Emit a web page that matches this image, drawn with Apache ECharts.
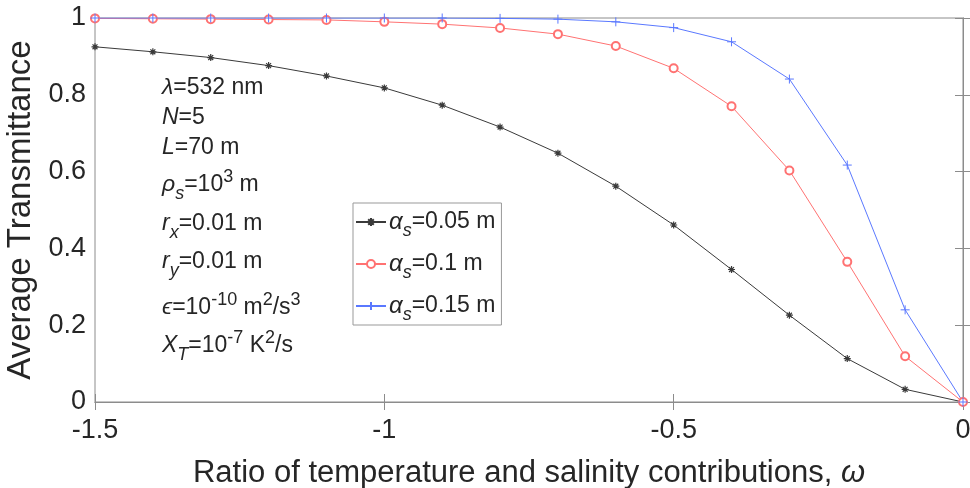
<!DOCTYPE html>
<html>
<head>
<meta charset="utf-8">
<script src="https://cdn.jsdelivr.net/npm/echarts@6/dist/echarts.min.js"></script>
<style>
html,body{margin:0;padding:0;background:#fff;}
#c{width:970px;height:488px;}
</style>
</head>
<body>
<div id="c"></div>
<script>
// ---- data ----
const omega = [-1.5, -1.4, -1.3, -1.2, -1.1, -1.0, -0.9, -0.8, -0.7, -0.6, -0.5, -0.4, -0.3, -0.2, -0.1, 0];
const alpha005 = [0.925, 0.912, 0.897, 0.876, 0.849, 0.818, 0.773, 0.716, 0.648, 0.562, 0.461, 0.345, 0.226, 0.113, 0.033, 0];
const alpha01  = [0.999, 0.998, 0.997, 0.996, 0.995, 0.990, 0.984, 0.974, 0.958, 0.927, 0.869, 0.770, 0.603, 0.365, 0.119, 0];
const alpha015 = [1.000, 1.000, 1.000, 1.000, 1.000, 1.000, 1.000, 0.999, 0.997, 0.990, 0.975, 0.938, 0.841, 0.617, 0.240, 0];
const seriesNames = ['αs=0.05 m', 'αs=0.1 m', 'αs=0.15 m'];
const xTicks = [-1.5, -1, -0.5, 0];
const yTicks = [0, 0.2, 0.4, 0.6, 0.8, 1];
const xTitle = 'Ratio of temperature and salinity contributions, ';
const yTitle = 'Average Transmittance';
const notes = [
  '{i|λ}=532 nm',
  '{i|N}=5',
  '{i|L}=70 m',
  '{i|ρ}{sub|s}=10{sup|3} m',
  '{i|r}{sub|x}=0.01 m',
  '{i|r}{sub|y}=0.01 m',
  '{i|ϵ}=10{sup|-10} m{sup|2}/s{sup|3}',
  '{i|X}{sub|T}=10{sup|-7} K{sup|2}/s'
];
// ---- layout/style ----
const FONT = '"Liberation Sans", Arial, sans-serif';
const TXT = '#262626';
const AX = '#8c8c8c';
const noteY = [88, 118, 148, 185, 224, 262, 308, 346];

const chart = echarts.init(document.getElementById('c'));
const pairs = arr => omega.map((x, i) => [x, arr[i]]);
const asterisk = 'path://M5,0L5,10M0,5L10,5M1.5,1.5L8.5,8.5M8.5,1.5L1.5,8.5';
const plus = 'path://M5,0L5,10M0,5L10,5';

const noteRich = {
  i: {fill: TXT, fontSize: 23, fontFamily: FONT, fontStyle: 'italic'},
  sub: {fill: TXT, fontSize: 18, fontFamily: FONT, fontStyle: 'italic', padding: [18, 0, 0, 0]},
  sup: {fill: TXT, fontSize: 18, fontFamily: FONT, padding: [0, 0, 16, 0]}
};

const axisCommon = {
  type: 'value',
  axisLine: {show: true, lineStyle: {color: AX, width: 1}},
  axisTick: {show: true, inside: true, length: 8, lineStyle: {color: AX}},
  splitLine: {show: false}
};

chart.setOption({
  animation: false,
  backgroundColor: '#fff',
  grid: {left: 95, right: 7, top: 18, bottom: 86, containLabel: false, outerBoundsMode: 'none',
    show: true, borderColor: AX, borderWidth: 1, backgroundColor: 'transparent'},
  xAxis: [
    Object.assign({}, axisCommon, {
      min: xTicks[0], max: xTicks[xTicks.length - 1], interval: 0.5, position: 'bottom',
      axisLabel: {fontSize: 27, color: TXT, fontFamily: FONT, margin: 15},
      name: xTitle + '{w|ω}', nameLocation: 'middle', nameGap: 56,
      nameTextStyle: {fontSize: 31, color: TXT, fontFamily: FONT,
        rich: {w: {fontSize: 31, color: TXT, fontFamily: FONT, fontStyle: 'italic'}}}
    }),
    Object.assign({}, axisCommon, {
      min: xTicks[0], max: xTicks[xTicks.length - 1], interval: 0.5, position: 'top',
      axisLabel: {show: false}
    })
  ],
  yAxis: [
    Object.assign({}, axisCommon, {
      min: yTicks[0], max: yTicks[yTicks.length - 1], interval: 0.2, position: 'left',
      axisLabel: {fontSize: 27, color: TXT, fontFamily: FONT, margin: 9},
      name: yTitle, nameLocation: 'middle', nameGap: 54, nameRotate: 90,
      nameTextStyle: {fontSize: 33, color: TXT, fontFamily: FONT}
    }),
    Object.assign({}, axisCommon, {
      min: yTicks[0], max: yTicks[yTicks.length - 1], interval: 0.2, position: 'right',
      axisLabel: {show: false}
    })
  ],
  legend: {
    orient: 'vertical', left: 353, top: 203,
    padding: [7, 6, 1, 2], itemGap: 12, itemWidth: 30, itemHeight: 10,
    borderColor: '#999', borderWidth: 1, backgroundColor: '#fff', borderRadius: 0,
    data: seriesNames,
    formatter: n => n.replace('αs', '{g|α}{sub|s}'),
    textStyle: {fontSize: 23, color: TXT, fontFamily: FONT, padding: [0, 0, 0, -2],
      rich: {
        g: {fontSize: 24, color: TXT, fontFamily: FONT, fontStyle: 'italic'},
        sub: {fontSize: 18, color: TXT, fontFamily: FONT, fontStyle: 'italic', padding: [18, 0, 0, 0]}
      }}
  },
  graphic: notes.map((t, k) => ({
    type: 'text', x: 162, y: noteY[k], z: 50,
    style: {text: t, rich: noteRich, fill: TXT, fontSize: 23, fontFamily: FONT, verticalAlign: 'middle', align: 'left'}
  })),
  series: [
    {name: seriesNames[0], type: 'line', data: pairs(alpha005), symbol: asterisk, symbolSize: 7,
      lineStyle: {color: '#3a3a3a', width: 1},
      itemStyle: {color: '#3a3a3a', borderColor: '#3a3a3a', borderWidth: 1.2}},
    {name: seriesNames[1], type: 'line', data: pairs(alpha01), symbol: 'emptyCircle', symbolSize: 8,
      lineStyle: {color: '#ff7272', width: 1},
      itemStyle: {color: '#ff7272', borderColor: '#ff7272', borderWidth: 1}},
    {name: seriesNames[2], type: 'line', data: pairs(alpha015), symbol: plus, symbolSize: 9,
      lineStyle: {color: '#5a78ff', width: 1},
      itemStyle: {color: '#5a78ff', borderColor: '#5a78ff', borderWidth: 1}}
  ]
});
</script>
</body>
</html>
